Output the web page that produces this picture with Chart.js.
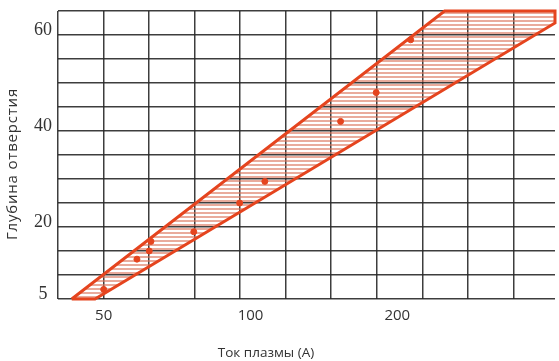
<!DOCTYPE html>
<html>
<head>
<meta charset="utf-8">
<script src="https://cdn.jsdelivr.net/npm/chart.js@4.4.1/dist/chart.umd.min.js"></script>
<style>
  html, body { margin: 0; padding: 0; background: #fff; }
  #wrap { width: 559px; height: 361px; }
</style>
</head>
<body>
<div id="wrap"><canvas id="c" width="559" height="361"></canvas></div>
<script>
// Plasma current (A) vs. hole depth
const xTickValues = [50, 100, 200];
const yTickLabels = [5, 20, 40, 60];

// measured points: current, depth
const measuredCurrent = [50, 58.5, 62, 62.5, 76.5, 95, 107, 153, 181, 213];
const measuredDepth   = [7, 13.3, 15, 17, 19, 25, 29.5, 42, 48, 59];

// outline of the working region (current, depth), traced in order
const bandCurrent = [43, 250, 421, 421, 48, 43];
const bandDepth   = [5, 65, 65, 62.5, 5, 5];

const xMin = 40.3, xMax = 421;
const yMin = 5, yMax = 65, yStep = 5;
const gridCols = 10.915;

const RED = '#E5441E';
const GRID = 'rgba(40,40,40,0.9)';

// horizontal hatching for the band
function hatch() {
  const t = document.createElement('canvas');
  t.width = 8; t.height = 4;
  const g = t.getContext('2d');
  g.fillStyle = 'rgba(218,115,90,0.6)';
  g.fillRect(0, 0, 8, 2);
  return g.createPattern(t, 'repeat');
}

const axisTitles = {
  id: 'axisTitles',
  afterDraw(chart) {
    const ctx = chart.ctx;
    ctx.save();
    ctx.fillStyle = '#333';
    ctx.textAlign = 'center';
    ctx.textBaseline = 'middle';
    ctx.font = '13.5px "Open Sans"';
    ctx.fillText('Ток плазмы (А)', 266, 353);
    ctx.translate(13, 164);
    ctx.rotate(-Math.PI / 2);
    ctx.font = '15px "Open Sans"';
    ctx.letterSpacing = '0.8px';
    ctx.fillText('Глубина отверстия', 0, 0);
    ctx.restore();
  }
};

new Chart(document.getElementById('c'), {
  type: 'line',
  data: {
    datasets: [
      {
        type: 'scatter',
        data: measuredCurrent.map((v, i) => ({ x: v, y: measuredDepth[i] })),
        backgroundColor: RED,
        borderColor: RED,
        pointRadius: 3,
        pointHoverRadius: 3,
        xAxisID: 'x',
        order: 0
      },
      {
        type: 'line',
        data: bandCurrent.map((v, i) => ({ x: v, y: bandDepth[i] })),
        borderColor: RED,
        borderWidth: 3,
        backgroundColor: hatch(),
        fill: 'shape',
        pointRadius: 0,
        tension: 0,
        clip: 4,
        xAxisID: 'x',
        order: 1
      }
    ]
  },
  options: {
    responsive: false,
    animation: false,
    layout: { padding: { top: 11, right: 0, left: 0, bottom: 0 } },
    plugins: { legend: { display: false }, tooltip: { enabled: false } },
    scales: {
      x: {
        type: 'logarithmic',
        position: 'bottom',
        min: xMin,
        max: xMax,
        grid: { display: false, drawTicks: false },
        border: { display: false },
        afterBuildTicks: s => { s.ticks = xTickValues.map(v => ({ value: v })); },
        ticks: {
          autoSkip: false,
          maxRotation: 0,
          padding: 8,
          color: '#333',
          font: { family: '"Open Sans"', size: 15 },
          callback: v => String(v)
        },
        afterFit: s => { s.height = 62; s.paddingLeft = 0; s.paddingRight = 0; }
      },
      xg: {
        type: 'linear',
        position: 'bottom',
        min: 0,
        max: gridCols,
        grid: { color: GRID, lineWidth: 1.5, drawTicks: false },
        border: { display: false },
        ticks: { display: false, stepSize: 1, includeBounds: false },
        afterFit: s => { s.height = 0; s.paddingLeft = 0; s.paddingRight = 0; }
      },
      y: {
        type: 'linear',
        min: yMin,
        max: yMax,
        grid: { color: GRID, lineWidth: 1.5, drawTicks: false },
        border: { display: false },
        ticks: {
          stepSize: yStep,
          autoSkip: false,
          padding: 6,
          labelOffset: -5,
          crossAlign: 'center',
          color: '#333',
          font: { family: '"Liberation Serif"', size: 18 },
          callback: v => yTickLabels.includes(v) ? String(v) : ''
        },
        afterFit: s => { s.width = 58; s.paddingTop = 0; s.paddingBottom = 0; }
      }
    }
  },
  plugins: [axisTitles]
});
</script>
</body>
</html>
